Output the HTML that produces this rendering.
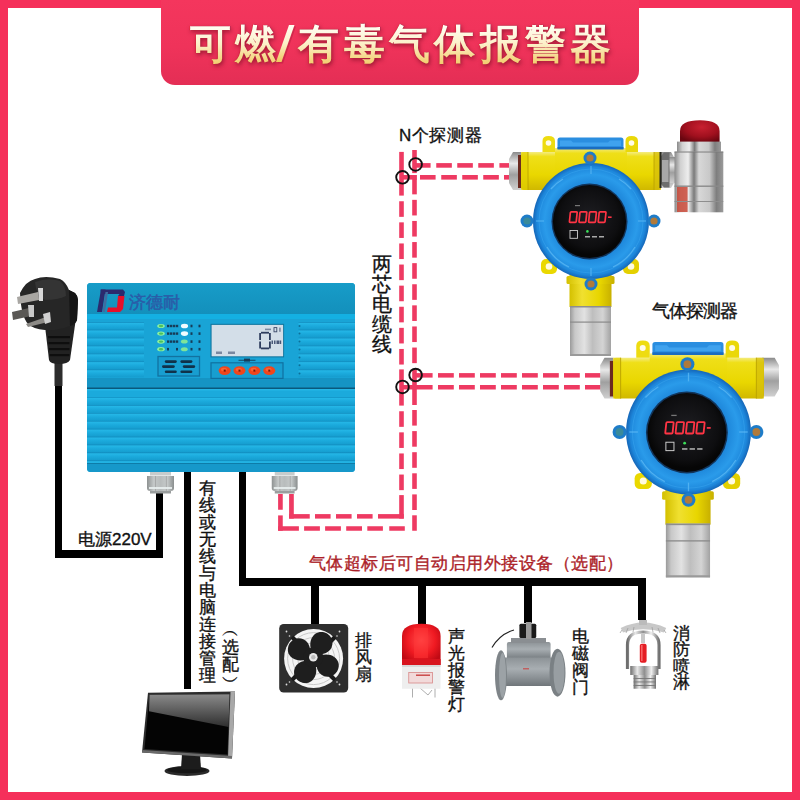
<!DOCTYPE html>
<html><head><meta charset="utf-8">
<style>
html,body{margin:0;padding:0;background:#fff;}
body{width:800px;height:800px;position:relative;overflow:hidden;font-family:"Liberation Sans",sans-serif;}
.frame{position:absolute;left:0;top:0;width:784px;height:784px;border:8px solid #F5305A;}
.banner{position:absolute;left:161px;top:0;width:478px;height:84.5px;background:linear-gradient(180deg,#F4365D 0%,#EF335A 55%,#E42E55 100%);border-radius:0 0 14px 14px;}
.title{position:absolute;left:189.5px;top:16px;width:430px;font-size:41px;font-weight:700;letter-spacing:4.3px;white-space:nowrap;color:#FBE7A8;text-shadow:1px 2px 3px rgba(120,10,30,.55);line-height:56px;}
.tg .sl,.ts .sl{color:transparent;-webkit-text-fill-color:transparent;-webkit-text-stroke:0;text-shadow:none;}
.sl{display:inline-block;font-size:47px;font-weight:700;line-height:40px;transform:scaleX(1.15);margin:0 1px 0 0px;}
.ts{-webkit-text-stroke:0.3px #B8203C;color:#B8203C;text-shadow:1px 2px 4px rgba(110,10,30,.65);}
.tg{-webkit-text-stroke:0;text-shadow:none;background-image:linear-gradient(180deg,#FFFFF8 0%,#FFFDF0 20%,#FCF0C8 50%,#F4D27A 80%,#EEC45A 100%);-webkit-background-clip:text;background-clip:text;color:transparent;-webkit-text-fill-color:transparent;}
.t{position:absolute;color:#111;white-space:nowrap;line-height:1;-webkit-text-stroke:0.35px currentColor;}
.v{position:absolute;color:#111;line-height:1;-webkit-text-stroke:0.35px currentColor;}
svg{position:absolute;left:0;top:0;}
</style></head><body>
<div class="frame"></div>
<div class="banner"></div>
<div class="title ts">可燃<span class="sl">/</span>有毒气体报警器</div>
<div class="title tg">可燃<span class="sl">/</span>有毒气体报警器</div>

<svg width="800" height="800" viewBox="0 0 800 800">
  <defs><linearGradient id="slg" x1="0" y1="0" x2="0" y2="1"><stop offset="0" stop-color="#FFFDF2"/><stop offset="0.5" stop-color="#FCF0C8"/><stop offset="1" stop-color="#F0C860"/></linearGradient></defs>
  <polygon points="277.5,63.5 283,63.5 296,26.5 290.5,26.5" fill="#9A1430" opacity="0.35"/>
  <polygon points="276,62 281.5,62 294.5,25 289,25" fill="url(#slg)"/>
  <!-- black cables -->
  <g fill="#000">
    <rect x="55" y="372" width="7" height="186"/>
    <rect x="55" y="550" width="108" height="8"/>
    <rect x="156" y="490" width="7" height="68"/>
    <rect x="184" y="471" width="7" height="218"/>
    <rect x="239" y="471" width="7" height="114"/>
    <rect x="239" y="578" width="407" height="8"/>
    <rect x="311" y="578" width="8" height="47"/>
    <rect x="418" y="578" width="8" height="46"/>
    <rect x="524" y="578" width="8" height="45"/>
    <rect x="638" y="578" width="8" height="42"/>
  </g>
  <!-- dashed pink lines -->
  <g fill="#EE3A62">
    <rect x="399.20" y="151.90" width="4.60" height="43.70"/>
    <rect x="399.20" y="201.25" width="4.60" height="15.60"/>
    <rect x="399.20" y="222.35" width="4.60" height="15.60"/>
    <rect x="399.20" y="243.45" width="4.60" height="15.60"/>
    <rect x="399.20" y="264.55" width="4.60" height="15.60"/>
    <rect x="399.20" y="285.65" width="4.60" height="15.60"/>
    <rect x="399.20" y="306.75" width="4.60" height="15.60"/>
    <rect x="399.20" y="327.85" width="4.60" height="15.60"/>
    <rect x="399.20" y="348.95" width="4.60" height="15.60"/>
    <rect x="399.20" y="369.40" width="4.60" height="36.20"/>
    <rect x="399.20" y="411.25" width="4.60" height="15.60"/>
    <rect x="399.20" y="432.35" width="4.60" height="15.60"/>
    <rect x="399.20" y="453.45" width="4.60" height="15.60"/>
    <rect x="399.20" y="474.55" width="4.60" height="15.60"/>
    <rect x="399.20" y="495.10" width="4.60" height="23.50"/>
    <rect x="412.20" y="150.00" width="4.60" height="23.10"/>
    <rect x="412.20" y="178.75" width="4.60" height="15.60"/>
    <rect x="412.20" y="199.85" width="4.60" height="15.60"/>
    <rect x="412.20" y="220.95" width="4.60" height="15.60"/>
    <rect x="412.20" y="242.05" width="4.60" height="15.60"/>
    <rect x="412.20" y="263.15" width="4.60" height="15.60"/>
    <rect x="412.20" y="284.25" width="4.60" height="15.60"/>
    <rect x="412.20" y="305.35" width="4.60" height="15.60"/>
    <rect x="412.20" y="326.45" width="4.60" height="15.60"/>
    <rect x="412.20" y="347.55" width="4.60" height="15.60"/>
    <rect x="412.20" y="369.00" width="4.60" height="36.00"/>
    <rect x="412.20" y="410.00" width="4.60" height="15.60"/>
    <rect x="412.20" y="431.10" width="4.60" height="15.60"/>
    <rect x="412.20" y="452.20" width="4.60" height="15.60"/>
    <rect x="412.20" y="473.30" width="4.60" height="15.60"/>
    <rect x="412.20" y="494.40" width="4.60" height="15.60"/>
    <rect x="412.20" y="515.30" width="4.60" height="15.45"/>
    <rect x="414.50" y="163.10" width="16.10" height="4.60"/>
    <rect x="436.25" y="163.10" width="15.60" height="4.60"/>
    <rect x="457.25" y="163.10" width="15.60" height="4.60"/>
    <rect x="478.25" y="163.10" width="15.60" height="4.60"/>
    <rect x="499.40" y="163.10" width="12.60" height="4.60"/>
    <rect x="401.50" y="175.00" width="15.40" height="4.60"/>
    <rect x="420.00" y="175.00" width="15.60" height="4.60"/>
    <rect x="441.25" y="175.00" width="15.60" height="4.60"/>
    <rect x="462.25" y="175.00" width="15.60" height="4.60"/>
    <rect x="483.25" y="175.00" width="15.60" height="4.60"/>
    <rect x="504.00" y="175.00" width="8.00" height="4.60"/>
    <rect x="414.50" y="373.10" width="18.10" height="4.50"/>
    <rect x="438.00" y="373.10" width="15.80" height="4.50"/>
    <rect x="459.00" y="373.10" width="15.80" height="4.50"/>
    <rect x="480.00" y="373.10" width="15.80" height="4.50"/>
    <rect x="501.00" y="373.10" width="15.80" height="4.50"/>
    <rect x="522.00" y="373.10" width="15.80" height="4.50"/>
    <rect x="543.00" y="373.10" width="15.80" height="4.50"/>
    <rect x="564.00" y="373.10" width="15.80" height="4.50"/>
    <rect x="585.00" y="373.10" width="15.80" height="4.50"/>
    <rect x="401.50" y="385.00" width="31.10" height="4.50"/>
    <rect x="438.00" y="385.00" width="15.80" height="4.50"/>
    <rect x="459.00" y="385.00" width="15.80" height="4.50"/>
    <rect x="480.00" y="385.00" width="15.80" height="4.50"/>
    <rect x="501.00" y="385.00" width="15.80" height="4.50"/>
    <rect x="522.00" y="385.00" width="15.80" height="4.50"/>
    <rect x="543.00" y="385.00" width="15.80" height="4.50"/>
    <rect x="564.00" y="385.00" width="15.80" height="4.50"/>
    <rect x="585.00" y="385.00" width="15.80" height="4.50"/>
    <rect x="289.10" y="514.10" width="20.65" height="4.50"/>
    <rect x="315.00" y="514.10" width="15.60" height="4.50"/>
    <rect x="336.00" y="514.10" width="15.60" height="4.50"/>
    <rect x="357.00" y="514.10" width="15.60" height="4.50"/>
    <rect x="378.00" y="514.10" width="25.80" height="4.50"/>
    <rect x="278.10" y="526.25" width="20.80" height="4.50"/>
    <rect x="304.10" y="526.25" width="15.80" height="4.50"/>
    <rect x="325.10" y="526.25" width="15.80" height="4.50"/>
    <rect x="346.20" y="526.25" width="15.80" height="4.50"/>
    <rect x="367.30" y="526.25" width="15.60" height="4.50"/>
    <rect x="389.25" y="526.25" width="15.55" height="4.50"/>
    <rect x="278.10" y="494.00" width="4.65" height="15.75"/>
    <rect x="278.10" y="515.40" width="4.65" height="15.35"/>
    <rect x="289.10" y="494.00" width="4.70" height="24.60"/>
    </g>
  <g fill="none" stroke="#111" stroke-width="1.9">
    <circle cx="415.6" cy="164.4" r="6.3"/>
    <circle cx="402.5" cy="177.3" r="6.3"/>
    <circle cx="415.6" cy="375" r="6.3"/>
    <circle cx="402.5" cy="386.9" r="6.3"/>
  </g>

<defs>
  <linearGradient id="yarm" x1="0" y1="0" x2="0" y2="1">
    <stop offset="0" stop-color="#F4EC80"/>
    <stop offset="0.12" stop-color="#EFDF18"/>
    <stop offset="0.6" stop-color="#E9D700"/>
    <stop offset="1" stop-color="#D0B800"/>
  </linearGradient>
  <linearGradient id="yneck" x1="0" y1="0" x2="1" y2="0">
    <stop offset="0" stop-color="#D4C000"/>
    <stop offset="0.3" stop-color="#F0E030"/>
    <stop offset="0.7" stop-color="#E8D600"/>
    <stop offset="1" stop-color="#C8B000"/>
  </linearGradient>
  <linearGradient id="steel" x1="0" y1="0" x2="1" y2="0">
    <stop offset="0" stop-color="#9A9A9A"/>
    <stop offset="0.12" stop-color="#C8C8C8"/>
    <stop offset="0.35" stop-color="#E2E2E2"/>
    <stop offset="0.55" stop-color="#BEBEBE"/>
    <stop offset="0.8" stop-color="#D4D4D4"/>
    <stop offset="1" stop-color="#A2A2A2"/>
  </linearGradient>
  <linearGradient id="steelv" x1="0" y1="0" x2="0" y2="1">
    <stop offset="0" stop-color="#8A8A8A"/>
    <stop offset="0.3" stop-color="#E8E8E8"/>
    <stop offset="0.6" stop-color="#A0A0A0"/>
    <stop offset="1" stop-color="#D0D0D0"/>
  </linearGradient>
  <radialGradient id="blue" cx="0.5" cy="0.5" r="0.5">
    <stop offset="0.6" stop-color="#1C84D8"/>
    <stop offset="0.8" stop-color="#2A9BEA"/>
    <stop offset="0.93" stop-color="#1E88DC"/>
    <stop offset="1" stop-color="#1466B8"/>
  </radialGradient>
  <radialGradient id="disp" cx="0.5" cy="0.45" r="0.5">
    <stop offset="0" stop-color="#1E1E22"/>
    <stop offset="0.8" stop-color="#0E0E10"/>
    <stop offset="1" stop-color="#060606"/>
  </radialGradient>
  <g id="det">
    <!-- glands -->
    <polygon points="-82,-62 -78,-69 -70,-69 -70,-31 -78,-31 -82,-38" fill="url(#steelv)"/>
    <rect x="-73" y="-66" width="4" height="33" fill="#6A2A20"/>
    <polygon points="84,-62 80,-69 68,-69 68,-33 80,-33 84,-40" fill="url(#steelv)"/>
    <rect x="66" y="-66" width="4" height="32" fill="#4A2A20"/>
    <!-- arms -->
    <rect x="-70" y="-69" width="140" height="38" rx="3" fill="url(#yarm)"/>
    <rect x="-70" y="-69" width="7" height="38" fill="#E2D000" opacity="0.7"/>
    <rect x="63" y="-69" width="7" height="38" fill="#D4BC0A" opacity="0.7"/>
    <line x1="-63" y1="-69" x2="-63" y2="-31" stroke="#B89F00" stroke-width="0.8"/>
    <line x1="63" y1="-69" x2="63" y2="-31" stroke="#B89F00" stroke-width="0.8"/>
    <!-- center block -->
    <rect x="-36" y="-73" width="72" height="44" fill="url(#yarm)"/>
    <!-- top ears -->
    <path d="M-48.5,-69 V-80 Q-48.5,-85 -42.5,-85 Q-36,-85 -36,-80 V-69 Z" fill="#EEDC10"/>
    <circle cx="-42.5" cy="-78" r="2.8" fill="#FFFBE8"/>
    <path d="M34.5,-69 V-80 Q34.5,-85 40.5,-85 Q47,-85 47,-80 V-69 Z" fill="#EAD808"/>
    <circle cx="40.5" cy="-78" r="2.8" fill="#FFFBE8"/>
    <!-- top cap -->
    <path d="M-33.5,-72 V-81 Q-33.5,-83.5 -31,-83.5 H30 Q32.5,-83.5 32.5,-81 V-72 Z" fill="#2A8EE0"/>
    <path d="M-31,-80.5 H-20 L-18,-78.5 H17 L19,-80.5 H30 V-75 H-31 Z" fill="#3FA2EE"/>
    <rect x="-33.5" y="-74" width="66" height="2.5" fill="#1A6CC0"/>
    <!-- bottom ears -->
    <rect x="-50" y="38" width="16" height="15" rx="5" fill="#EAD800"/>
    <circle cx="-42" cy="45.5" r="3.3" fill="#FFFBE0"/>
    <rect x="32" y="38" width="16" height="15" rx="5" fill="#E4D000"/>
    <circle cx="40" cy="45.5" r="3.3" fill="#FFFBE0"/>
    <!-- neck -->
    <rect x="-21.5" y="48" width="42" height="38" fill="url(#yneck)"/>
    <rect x="-24.5" y="55" width="48" height="8" rx="1.5" fill="url(#yneck)"/>
    <!-- steel -->
    <rect x="-21" y="85" width="41" height="50" fill="url(#steel)"/>
    <rect x="-21" y="85" width="41" height="1.5" fill="#8E8E8E"/>
    <rect x="-21" y="100.5" width="41" height="1.2" fill="#8A8A8A"/>
    <rect x="-21" y="133" width="41" height="2" fill="#9A9A9A"/>
    <!-- blue ring -->
    <circle cx="0" cy="0" r="58" fill="url(#blue)"/>
    <circle cx="0" cy="0" r="52" fill="none" stroke="#3AA6F0" stroke-width="1" opacity="0.5"/>
    <g stroke="#5AB8F4" stroke-width="1.2" opacity="0.8" fill="none"><line x1="0" y1="-55" x2="0" y2="-47"/><line x1="0" y1="55" x2="0" y2="47"/><line x1="-55" y1="0" x2="-47" y2="0"/><line x1="55" y1="0" x2="47" y2="0"/><path d="M-44,26 A51,51 0 0 0 -22,46"/><path d="M44,26 A51,51 0 0 1 22,46"/><path d="M-40,-32 A51,51 0 0 1 -28,-42"/><path d="M40,-32 A51,51 0 0 0 28,-42"/></g>
    <!-- screw tabs -->
    <g>
      <circle cx="-64" cy="0" r="6.5" fill="#1E7CC8"/><circle cx="-64" cy="0" r="3.6" fill="#3A8A9A"/>
      <circle cx="63" cy="0" r="6.5" fill="#1E7CC8"/><circle cx="63" cy="0" r="3.6" fill="#B07A3A"/>
      <circle cx="-1" cy="-63" r="6.5" fill="#1E7CC8"/><circle cx="-1" cy="-63" r="3.6" fill="#B07A3A"/>
      <circle cx="0" cy="63" r="6.5" fill="#1E7CC8"/><circle cx="0" cy="63" r="3.6" fill="#B07A3A"/>
    </g>
    <!-- display -->
    <circle cx="-1.5" cy="0.5" r="38" fill="#12345A"/>
    <circle cx="-1.5" cy="0.5" r="36.6" fill="url(#disp)"/>
    <g><rect x="-21.5" y="-9.2" width="6.8" height="10.6" rx="0.8" fill="none" stroke="#FF3444" stroke-width="1.7" transform="skewX(-6)"/><rect x="-11.9" y="-9.2" width="6.8" height="10.6" rx="0.8" fill="none" stroke="#FF3444" stroke-width="1.7" transform="skewX(-6)"/><rect x="-2.3" y="-9.2" width="6.8" height="10.6" rx="0.8" fill="none" stroke="#FF3444" stroke-width="1.7" transform="skewX(-6)"/><rect x="7.3" y="-9.2" width="6.8" height="10.6" rx="0.8" fill="none" stroke="#FF3444" stroke-width="1.7" transform="skewX(-6)"/></g>
    <rect x="17" y="-4.6" width="3.6" height="1.6" fill="#FF3444"/>
    <rect x="-16" y="-16" width="5" height="1.2" fill="#777"/>
    <rect x="-21" y="9.5" width="7.5" height="7.8" fill="none" stroke="#CFCFCF" stroke-width="0.9"/>
    <circle cx="-3.6" cy="10.4" r="1.3" fill="#3BE05A"/>
    <rect x="-6" y="15" width="5" height="1.5" fill="#AAA"/>
    <rect x="1" y="15" width="5" height="1.5" fill="#AAA"/>
    <rect x="8" y="15" width="5" height="1.5" fill="#AAA"/>
  </g>
</defs>
<use href="#det" transform="translate(591,221)"/>
<use href="#det" transform="translate(688.5,432) scale(1.077)"/>

  <defs>
    <linearGradient id="silv" x1="0" y1="0" x2="1" y2="0">
      <stop offset="0" stop-color="#8A8A8A"/>
      <stop offset="0.12" stop-color="#D0D0D0"/>
      <stop offset="0.28" stop-color="#EEEEEE"/>
      <stop offset="0.4" stop-color="#7A7A7A"/>
      <stop offset="0.5" stop-color="#D8D8D8"/>
      <stop offset="0.72" stop-color="#C8C8C8"/>
      <stop offset="0.86" stop-color="#7E7E7E"/>
      <stop offset="1" stop-color="#9A9A9A"/>
    </linearGradient>
    <radialGradient id="dome" cx="0.55" cy="0.3" r="0.7">
      <stop offset="0" stop-color="#C82030"/>
      <stop offset="0.6" stop-color="#A0101E"/>
      <stop offset="1" stop-color="#6A0610"/>
    </radialGradient>
    <linearGradient id="gland" x1="0" y1="0" x2="1" y2="0">
      <stop offset="0" stop-color="#8E9292"/>
      <stop offset="0.25" stop-color="#C4C8C8"/>
      <stop offset="0.5" stop-color="#B8BCBC"/>
      <stop offset="0.75" stop-color="#C6CACA"/>
      <stop offset="1" stop-color="#8A8E8E"/>
    </linearGradient>
    <linearGradient id="plug" x1="0" y1="0" x2="1" y2="1">
      <stop offset="0" stop-color="#3A3A3A"/>
      <stop offset="0.5" stop-color="#222"/>
      <stop offset="1" stop-color="#111"/>
    </linearGradient>
  </defs>
  <!-- alarm light -->
  <g id="alarm">
    <rect x="669" y="157" width="9" height="26" fill="url(#steelv)"/>
    <polygon points="661,156 664,152.5 669.5,152.5 669.5,187.5 664,187.5 661,184" fill="#6E6E6E"/>
    <rect x="662" y="160" width="6.5" height="22" fill="#A8A8A8"/>
    <rect x="659.5" y="152" width="2" height="36" fill="#2A2A20"/>
    <path d="M680,143 V131 Q680,120.3 700,120.3 Q719.6,120.3 719.6,131 V143 Z" fill="url(#dome)"/>
    <rect x="677" y="141.6" width="44" height="10.2" fill="url(#silv)"/>
    <rect x="674.5" y="151.8" width="48.8" height="60.5" fill="url(#silv)"/>
    <rect x="674.5" y="151.5" width="48.8" height="1" fill="#7A7A7A"/>
    <rect x="674.5" y="185.5" width="48.8" height="1.4" fill="#8A8A8A"/>
    <rect x="677" y="187" width="10.6" height="25" fill="#C8402E" opacity="0.8"/>
    <rect x="674.5" y="201" width="48.8" height="1" fill="#8E8E8E"/>
  </g>

  <!-- controller glands -->
  <g id="glands">
    <rect x="150" y="471.5" width="21" height="4" fill="#C8CCCC"/>
    <path d="M147,476 H174 V488 Q174,491 171,491 H150 Q147,491 147,488 Z" fill="url(#gland)"/>
    <rect x="155.1" y="476" width="0.8" height="15" fill="#8A8A8A" opacity="0.6"/>
    <rect x="165.9" y="476" width="0.8" height="15" fill="#8A8A8A" opacity="0.6"/>
    <rect x="149" y="487" width="23" height="2" fill="#E8EEEE" opacity="0.9"/>
    <rect x="150" y="491" width="21" height="2.5" fill="#9A9E9E"/>
    <rect x="274.75" y="471.5" width="19.850000000000023" height="4" fill="#C8CCCC"/>
    <path d="M271.75,476 H297.6 V488 Q297.6,491 294.6,491 H274.75 Q271.75,491 271.75,488 Z" fill="url(#gland)"/>
    <rect x="279.5" y="476" width="0.8" height="15" fill="#8A8A8A" opacity="0.6"/>
    <rect x="289.8" y="476" width="0.8" height="15" fill="#8A8A8A" opacity="0.6"/>
    <rect x="273.75" y="487" width="21.850000000000023" height="2" fill="#E8EEEE" opacity="0.9"/>
    <rect x="274.75" y="491" width="19.850000000000023" height="2.5" fill="#9A9E9E"/>
  </g>

  <!-- power plug -->
  <g id="plugg">
    <rect x="54.5" y="360" width="8" height="26" fill="#2C2C2C"/>
    <path d="M45,326 L76,318 L70,360 Q68,364 59,364 Q50,364 49,360 Z" fill="#222"/>
    <g fill="#0E0E0E">
      <rect x="48" y="336" width="22" height="2.2"/>
      <rect x="48.5" y="342" width="21" height="2.2"/>
      <rect x="49" y="348" width="20.5" height="2.2"/>
      <rect x="49.5" y="354" width="20" height="2.2"/>
    </g>
    <path d="M20,293 Q26,281 35,279 Q45,275 60,279 Q66,282 69,290 L75,293 Q78,296 78,300 L77,320 Q75,325 70,326 Q58,331 45,330 Q33,329 28,324 Q21,316 20,293 Z" fill="#262626"/>
    <path d="M35,282 Q48,277 60,281 Q66,286 66,296 Q58,300 45,300 Q36,296 35,282 Z" fill="#343434"/>
    <path d="M69,290 L75,293 Q78,296 78,300 L77,320 Q75,325 70,326 Z" fill="#151515"/>
    <polygon points="17,297 38,292 39,300 18,304" fill="#A8A6A2"/>
    <polygon points="38,288 43,288 43,301 39,301" fill="#D8D8D8"/>
    <polygon points="12,312 29,308 31,316 13,320" fill="#5A5855"/>
    <polygon points="28,305 34,305 34,317 29,317" fill="#C8C8C8"/>
    <polygon points="26,324 46,317 48,322 28,327" fill="#8C8A86"/>
    <polygon points="43,314 50,312 51,322 45,324" fill="#D0D0D0"/>
  </g>

  <defs>
    <linearGradient id="bezel" x1="0" y1="0" x2="1" y2="0">
      <stop offset="0" stop-color="#3A3A3A"/>
      <stop offset="0.9" stop-color="#2A2A2A"/>
      <stop offset="1" stop-color="#9A9A9A"/>
    </linearGradient>
    <linearGradient id="gloss" x1="0" y1="0" x2="0" y2="1">
      <stop offset="0" stop-color="#8A8A8A"/>
      <stop offset="1" stop-color="#2E2E2E"/>
    </linearGradient>
    <radialGradient id="redl" cx="0.5" cy="0.4" r="0.6">
      <stop offset="0" stop-color="#FF4A4A"/>
      <stop offset="0.6" stop-color="#F01A22"/>
      <stop offset="1" stop-color="#C00A14"/>
    </radialGradient>
    <linearGradient id="vgray" x1="0" y1="0" x2="0" y2="1">
      <stop offset="0" stop-color="#8C9296"/>
      <stop offset="0.4" stop-color="#A8AEB2"/>
      <stop offset="1" stop-color="#70767A"/>
    </linearGradient>
    <linearGradient id="chrome" x1="0" y1="0" x2="1" y2="0">
      <stop offset="0" stop-color="#6E6E6E"/>
      <stop offset="0.25" stop-color="#E8E8E8"/>
      <stop offset="0.5" stop-color="#8E8E8E"/>
      <stop offset="0.75" stop-color="#F0F0F0"/>
      <stop offset="1" stop-color="#707070"/>
    </linearGradient>
  </defs>
  <!-- monitor -->
  <g id="monitor">
    <ellipse cx="187" cy="771" rx="22.5" ry="5" fill="#2A2A2A"/>
    <ellipse cx="187" cy="770" rx="20" ry="3.3" fill="#161616"/>
    <polygon points="182,754 200,754 201,769 181,769" fill="#1C1C1C"/>
    <polygon points="148,692.8 235,691.5 232,758.5 142,752.5" fill="#2C2C2C"/>
    <polygon points="230.5,691.6 235,691.5 232,758.5 228,758.2" fill="#A8A8A8"/>
    <polygon points="142,752.5 232,758.5 232,756 142.3,750" fill="#6A6A6A"/>
    <polygon points="149.5,694.8 229.5,694.2 227.5,754.5 144.5,749" fill="#040404"/>
    <polygon points="149.5,694.8 229.5,694.2 228.6,727 149,711.3" fill="url(#gloss)"/>
  </g>

  <!-- fan -->
  <g id="fan">
    <rect x="279.2" y="624" width="69" height="68.6" rx="4.5" fill="#2E2E2E"/>
    <circle cx="313.6" cy="658.6" r="29.5" fill="#F4F4F4"/>
    <g fill="none" stroke="#BDBDBD" stroke-width="0.8">
      <circle cx="313.6" cy="658.6" r="26"/>
      <circle cx="313.6" cy="658.6" r="21"/>
      <circle cx="313.6" cy="658.6" r="16"/>
      <circle cx="313.6" cy="658.6" r="11"/>
    </g>
    <g stroke="#1A1A1A" stroke-width="4">
      <line x1="292" y1="637" x2="335" y2="680"/>
      <line x1="335" y1="637" x2="292" y2="680"/>
    </g>
    <g fill="#1E1E1E" transform="translate(313.3,657.5)">
      <path id="blade" transform="rotate(24) scale(1.1)" d="M-2.5,-4 C-9,-8 -11,-19 -4,-23.5 C3,-27.5 11.5,-23 11.5,-15 C11.5,-9 6,-5.5 2.5,-4 Z"/>
      <use href="#blade" transform="rotate(90)"/>
      <use href="#blade" transform="rotate(180)"/>
      <use href="#blade" transform="rotate(270)"/>
      <circle r="10" fill="#1E1E1E"/>
    </g>
    <circle cx="313.3" cy="657.2" r="4.3" fill="#E8E8E8"/>
    <circle cx="313.3" cy="657.2" r="2.2" fill="#BBB"/>
    <g fill="#DDD">
      <circle cx="286.5" cy="631.5" r="0.9"/><circle cx="339.5" cy="631.5" r="0.9"/>
      <circle cx="286.5" cy="684.5" r="0.9"/><circle cx="339.5" cy="684.5" r="0.9"/>
      <circle cx="289.5" cy="636" r="0.8"/><circle cx="337" cy="636" r="0.8"/>
      <circle cx="289.5" cy="682" r="0.8"/><circle cx="337" cy="682" r="0.8"/>
    </g>
  </g>
  <!-- warning light -->
  <g id="wlight">
    <g stroke="#999" stroke-width="0.8" fill="none">
      <line x1="412.5" y1="688" x2="412.5" y2="697.5"/>
      <line x1="435" y1="688" x2="435" y2="697.5"/>
      <path d="M420,688 L428,695 L432,690"/>
    </g>
    <path d="M402,665 V636 Q402,624 421.5,623.8 Q440.6,624 440.6,636 V665 Z" fill="url(#redl)"/>
    <rect x="402" y="659" width="38.6" height="6" fill="#D8141E"/>
    <rect x="414" y="628" width="14" height="30" fill="#FF3838" opacity="0.5"/>
    <rect x="402" y="665" width="38.5" height="23.75" fill="#EEEEEE"/>
    <rect x="402" y="665" width="38.5" height="2" fill="#D8D8D8"/>
    <rect x="408.75" y="672.5" width="23.75" height="10.5" fill="#F2DADA" stroke="#D88888" stroke-width="0.8"/>
    <rect x="416" y="674.5" width="14" height="1.4" fill="#C84040"/>
  </g>
  <!-- valve -->
  <g id="valve">
    <path d="M514,630 Q500,634 492,647.5" fill="none" stroke="#222" stroke-width="1.2"/>
    <rect x="506.9" y="641.9" width="43.7" height="18" rx="2" fill="url(#vgray)"/>
    <rect x="511" y="638" width="35" height="5" fill="#8A8E92"/>
    <rect x="503.75" y="657.5" width="51.25" height="28.5" fill="url(#vgray)"/>
    <ellipse cx="501" cy="675.3" rx="6" ry="25" fill="#7E8488"/>
    <ellipse cx="502.5" cy="675.3" rx="3.5" ry="22.5" fill="#9CA2A6"/>
    <ellipse cx="557.5" cy="672.7" rx="8" ry="24" fill="#7A8084"/>
    <ellipse cx="559" cy="672.7" rx="5.5" ry="21" fill="#989EA2"/>
    <rect x="519.4" y="623.75" width="16.85" height="14.25" rx="1.5" fill="#1A1A1A"/>
    <rect x="526" y="622" width="5.5" height="17" fill="#9A9A9A"/>
    <rect x="523" y="668" width="6" height="1.5" fill="#C06060"/>
  </g>
  <!-- sprinkler -->
  <g id="sprink">
    <path d="M620.7,628 Q643,617 666.2,628 L664,632.5 Q643,626 623,632.5 Z" fill="#C8C8C8"/>
    <g stroke="#9A9A9A" stroke-width="0.7">
      <line x1="622" y1="630" x2="620" y2="633"/><line x1="628" y1="628" x2="626" y2="633"/>
      <line x1="634" y1="627" x2="633" y2="632"/><line x1="652" y1="627" x2="653" y2="632"/>
      <line x1="658" y1="628" x2="660" y2="633"/><line x1="664" y1="630" x2="666" y2="633"/>
    </g>
    <rect x="639" y="620" width="8" height="5" fill="#BBB"/>
    <path d="M627.5,669 V645 Q627.5,632 643,632 Q659,632 659,645 V669" fill="none" stroke="url(#chrome)" stroke-width="3.2"/>
    <rect x="641" y="633" width="4" height="10" fill="#C8C8C8"/>
    <rect x="639.8" y="643.75" width="6.8" height="19" rx="2" fill="#E41E24"/>
    <rect x="641" y="645" width="1.6" height="16" fill="#FF8080" opacity="0.7"/>
    <rect x="630.25" y="666" width="28.15" height="9" fill="url(#chrome)"/>
    <rect x="633.6" y="675" width="22.4" height="13.75" fill="url(#chrome)"/>
    <g fill="#777">
      <rect x="633.6" y="678" width="22.4" height="0.9"/><rect x="633.6" y="681.5" width="22.4" height="0.9"/><rect x="633.6" y="685" width="22.4" height="0.9"/>
    </g>
  </g>

  <!-- controller -->
  <g id="controller">
    <defs><linearGradient id="ctop" x1="0" y1="0" x2="0" y2="1"><stop offset="0" stop-color="#179CC8"/><stop offset="1" stop-color="#1390BC"/></linearGradient>
    <linearGradient id="ridge" x1="0" y1="0" x2="0" y2="1"><stop offset="0" stop-color="#0F86B8"/><stop offset="0.16" stop-color="#24B6E6"/><stop offset="0.5" stop-color="#1BAADC"/><stop offset="1" stop-color="#159CCE"/></linearGradient></defs>
    <rect x="87" y="283" width="268" height="189" rx="3.5" fill="#19A4D6"/>
    <path d="M87,314 V286.5 Q87,283 90.5,283 H351.5 Q355,283 355,286.5 V314 Z" fill="url(#ctop)"/>
    <rect x="87" y="314" width="268" height="5" fill="#14B0E2"/>
    <polygon points="100.5,289.5 123,289.5 125,292 124,296 118,296 119.5,294 101,294" fill="#2B2A6E"/>
    <polygon points="101,289.5 105.5,289.5 102,312 97,312" fill="#2B2A6E"/>
    <polygon points="105.5,292 108,292 105,312 102.5,312" fill="#3F6CA0"/>
    <polygon points="118,296 124.5,296 123,309 120,312 107,312 108,307.5 117,307.5" fill="#E5102A"/>
    <rect x="87" y="322.1" width="57" height="7.8" fill="url(#ridge)"/>
    <rect x="298.5" y="322.1" width="56.5" height="7.8" fill="url(#ridge)"/>
    <rect x="87" y="329.70000000000005" width="57" height="7.8" fill="url(#ridge)"/>
    <rect x="298.5" y="329.70000000000005" width="56.5" height="7.8" fill="url(#ridge)"/>
    <rect x="87" y="337.70000000000005" width="57" height="7.8" fill="url(#ridge)"/>
    <rect x="298.5" y="337.70000000000005" width="56.5" height="7.8" fill="url(#ridge)"/>
    <rect x="87" y="345.6" width="57" height="7.8" fill="url(#ridge)"/>
    <rect x="298.5" y="345.6" width="56.5" height="7.8" fill="url(#ridge)"/>
    <rect x="87" y="353.6" width="57" height="7.8" fill="url(#ridge)"/>
    <rect x="298.5" y="353.6" width="56.5" height="7.8" fill="url(#ridge)"/>
    <rect x="87" y="361.40000000000003" width="57" height="7.8" fill="url(#ridge)"/>
    <rect x="298.5" y="361.40000000000003" width="56.5" height="7.8" fill="url(#ridge)"/>
    <rect x="87" y="369.5" width="57" height="7.8" fill="url(#ridge)"/>
    <rect x="298.5" y="369.5" width="56.5" height="7.8" fill="url(#ridge)"/>
    <rect x="87" y="322" width="57" height="0.1" fill="none"/>
    <circle cx="299.5" cy="326" r="1" fill="#0D6E98"/>
    <circle cx="299.5" cy="333.6" r="1" fill="#0D6E98"/>
    <circle cx="299.5" cy="341.6" r="1" fill="#0D6E98"/>
    <circle cx="299.5" cy="349.5" r="1" fill="#0D6E98"/>
    <circle cx="299.5" cy="357.5" r="1" fill="#0D6E98"/>
    <circle cx="299.5" cy="365.3" r="1" fill="#0D6E98"/>
    <circle cx="299.5" cy="373.4" r="1" fill="#0D6E98"/>
    <rect x="87" y="378" width="268" height="10" fill="#1594C4"/>
    <rect x="87" y="387.5" width="268" height="1.6" fill="#0A587C"/>
    <rect x="87" y="397.2" width="268" height="8" fill="url(#ridge)"/>
    <rect x="87" y="405.09999999999997" width="268" height="8" fill="url(#ridge)"/>
    <rect x="87" y="412.99999999999994" width="268" height="8" fill="url(#ridge)"/>
    <rect x="87" y="420.8999999999999" width="268" height="8" fill="url(#ridge)"/>
    <rect x="87" y="428.7999999999999" width="268" height="8" fill="url(#ridge)"/>
    <rect x="87" y="436.6999999999999" width="268" height="8" fill="url(#ridge)"/>
    <rect x="87" y="444.59999999999985" width="268" height="8" fill="url(#ridge)"/>
    <rect x="87" y="452.49999999999983" width="268" height="8" fill="url(#ridge)"/>
    <rect x="87" y="460.3999999999998" width="268" height="8" fill="url(#ridge)"/>
    <path d="M87,389 H355 V397.2 H87 Z" fill="#1BAADC"/>
    <rect x="87" y="389" width="268" height="1.5" fill="#24B6E6"/>
    <path d="M87,463.5 H355 V468 Q355,472 351,472 H91 Q87,472 87,468 Z" fill="#1698CA"/>
    <rect x="87" y="463" width="268" height="1" fill="#0E7CA8"/>
    <ellipse cx="161" cy="326" rx="3.8" ry="2.1" fill="#8CF0A0"/>
    <ellipse cx="161" cy="326" rx="2.2" ry="1.2" fill="#4CC060"/>
    <g fill="#173C58"><rect x="167" y="324.8" width="2.4" height="2.4"/><rect x="170" y="324.8" width="2.4" height="2.4"/><rect x="173" y="324.8" width="2.4" height="2.4"/><rect x="176" y="324.8" width="2.2" height="2.4"/></g>
    <ellipse cx="184.5" cy="326" rx="3.6" ry="2.3" fill="#F2FCFF"/>
    <rect x="190.5" y="324.7" width="2" height="2.6" fill="#173C58"/><rect x="198.5" y="324.7" width="2" height="2.6" fill="#173C58"/>
    <ellipse cx="161" cy="333.6" rx="3.8" ry="2.1" fill="#8CF0A0"/>
    <ellipse cx="161" cy="333.6" rx="2.2" ry="1.2" fill="#4CC060"/>
    <g fill="#173C58"><rect x="167" y="332.40000000000003" width="2.4" height="2.4"/><rect x="170" y="332.40000000000003" width="2.4" height="2.4"/><rect x="173" y="332.40000000000003" width="2.4" height="2.4"/><rect x="176" y="332.40000000000003" width="2.2" height="2.4"/></g>
    <ellipse cx="184.5" cy="333.6" rx="3.6" ry="2.3" fill="#F2FCFF"/>
    <rect x="190.5" y="332.3" width="2" height="2.6" fill="#173C58"/><rect x="198.5" y="332.3" width="2" height="2.6" fill="#173C58"/>
    <ellipse cx="161" cy="341.6" rx="3.8" ry="2.1" fill="#8CF0A0"/>
    <ellipse cx="161" cy="341.6" rx="2.2" ry="1.2" fill="#4CC060"/>
    <g fill="#173C58"><rect x="167" y="340.40000000000003" width="2.4" height="2.4"/><rect x="170" y="340.40000000000003" width="2.4" height="2.4"/><rect x="173" y="340.40000000000003" width="2.4" height="2.4"/><rect x="176" y="340.40000000000003" width="2.2" height="2.4"/></g>
    <ellipse cx="184.3" cy="341.6" rx="3.4" ry="2" fill="#7EE49A"/>
    <rect x="190.5" y="340.3" width="2" height="2.6" fill="#173C58"/><rect x="198.5" y="340.3" width="2" height="2.6" fill="#173C58"/>
    <ellipse cx="161" cy="349.2" rx="3.8" ry="2.1" fill="#8CF0A0"/>
    <ellipse cx="161" cy="349.2" rx="2.2" ry="1.2" fill="#4CC060"/>
    <rect x="167" y="347.9" width="2" height="2.6" fill="#173C58"/><rect x="176" y="347.9" width="2" height="2.6" fill="#173C58"/>
    <ellipse cx="184.3" cy="349.2" rx="3.4" ry="2" fill="#7EE49A"/>
    <rect x="190.5" y="347.9" width="2" height="2.6" fill="#173C58"/><rect x="198.5" y="347.9" width="2" height="2.6" fill="#173C58"/>
    <rect x="158" y="356.5" width="41.5" height="19.5" fill="#189ED0" stroke="#1272A0" stroke-width="1.3"/>
    <rect x="164.8" y="360.3" width="12" height="2.6" rx="1.3" fill="#10324A"/>
    <rect x="180.4" y="360.3" width="12" height="2.6" rx="1.3" fill="#10324A"/>
    <rect x="162" y="365.3" width="12.8" height="2.6" rx="1.3" fill="#10324A"/>
    <rect x="182.8" y="365.3" width="12.4" height="2.6" rx="1.3" fill="#10324A"/>
    <rect x="164.8" y="370.5" width="12" height="2.6" rx="1.3" fill="#10324A"/>
    <rect x="180.4" y="370.5" width="12" height="2.6" rx="1.3" fill="#10324A"/>
    <rect x="210.5" y="323.8" width="73.6" height="33.6" fill="#0F76A0"/>
    <rect x="211.6" y="324.9" width="71.5" height="31.4" fill="#D3DEE8"/>
    <g fill="#2E3D5E"><rect x="261" y="331.8" width="8" height="1.8"/><rect x="261" y="347.5" width="8" height="1.8"/><rect x="259.2" y="333" width="1.8" height="7"/><rect x="259.2" y="341.5" width="1.8" height="7"/><rect x="269" y="333" width="1.8" height="7"/><rect x="269" y="341.5" width="1.8" height="7"/></g>
    <g fill="#3A4868"><rect x="274" y="327.6" width="2.8" height="4.2" fill="none" stroke="#3A4868" stroke-width="0.9"/><rect x="279.5" y="327.6" width="0.9" height="4.2"/><rect x="265" y="328.6" width="6" height="1.6" fill="#7A88A0"/></g>
    <g fill="#4A5878"><rect x="271.5" y="340.5" width="1.5" height="3.5"/><rect x="274" y="340.5" width="1.5" height="3.5"/><rect x="276.5" y="340.5" width="3" height="3.5"/><rect x="280" y="340.5" width="1.2" height="3.5"/></g>
    <rect x="216" y="351.5" width="6" height="2.5" fill="#7A88A0"/><rect x="228" y="351.5" width="7" height="2.5" fill="#7A88A0"/>
    <rect x="238.5" y="359.8" width="17" height="0.9" fill="#173C58"/><rect x="244" y="358.6" width="6" height="3" fill="#173C58"/>
    <rect x="211" y="362.8" width="72" height="15.6" fill="#189ED0" stroke="#1070A0" stroke-width="1.2"/>
    <ellipse cx="224.7" cy="370.6" rx="6" ry="4.4" fill="#F0461C"/>
    <ellipse cx="223.89999999999998" cy="369.5" rx="3" ry="1.8" fill="#FF6A3A" opacity="0.8"/>
    <rect x="223.7" y="369.6" width="2" height="2" fill="#7A1A08"/>
    <ellipse cx="239.5" cy="370.6" rx="6" ry="4.4" fill="#F0461C"/>
    <ellipse cx="238.7" cy="369.5" rx="3" ry="1.8" fill="#FF6A3A" opacity="0.8"/>
    <rect x="238.5" y="369.6" width="2" height="2" fill="#7A1A08"/>
    <ellipse cx="254.4" cy="370.6" rx="6" ry="4.4" fill="#F0461C"/>
    <ellipse cx="253.6" cy="369.5" rx="3" ry="1.8" fill="#FF6A3A" opacity="0.8"/>
    <rect x="253.4" y="369.6" width="2" height="2" fill="#7A1A08"/>
    <ellipse cx="269.3" cy="370.6" rx="6" ry="4.4" fill="#F0461C"/>
    <ellipse cx="268.5" cy="369.5" rx="3" ry="1.8" fill="#FF6A3A" opacity="0.8"/>
    <rect x="268.3" y="369.6" width="2" height="2" fill="#7A1A08"/>
  </g>
</svg>

<div class="t" style="left:129px;top:293.5px;font-size:16.5px;color:#2A5CA8;-webkit-text-stroke:0.5px #2A5CA8;">济德耐</div>
<div class="t" style="left:399px;top:126.5px;font-size:17px;letter-spacing:0.6px;">N个探测器</div>
<div class="t" style="left:651.5px;top:303px;font-size:17.5px;letter-spacing:-0.9px;">气体探测器</div>
<div class="v" style="left:372px;top:254px;font-size:20px;width:21px;">两<br>芯<br>电<br>缆<br>线</div>
<div class="t" style="left:78px;top:531px;font-size:17px;">电源220V</div>
<div class="v" style="left:199px;top:479.5px;font-size:17px;width:18px;">有<br>线<br>或<br>无<br>线<br>与<br>电<br>脑<br>连<br>接<br>管<br>理</div>
<div class="t" style="left:309px;top:555px;font-size:17px;letter-spacing:0.47px;color:#AC1E28;">气体超标后可自动启用外接设备（选配）</div>
<div class="v" style="left:221.5px;top:621.5px;font-size:17px;width:18px;">︵<br>选<br>配<br>︶</div>
<div class="v" style="left:354.5px;top:632px;font-size:17px;width:18px;">排<br>风<br>扇</div>
<div class="v" style="left:447.5px;top:628px;font-size:17px;width:18px;">声<br>光<br>报<br>警<br>灯</div>
<div class="v" style="left:571.5px;top:628px;font-size:17px;width:18px;">电<br>磁<br>阀<br>门</div>
<div class="v" style="left:672.5px;top:624.5px;font-size:16.5px;width:18px;">消<br>防<br>喷<br>淋</div>
</body></html>
